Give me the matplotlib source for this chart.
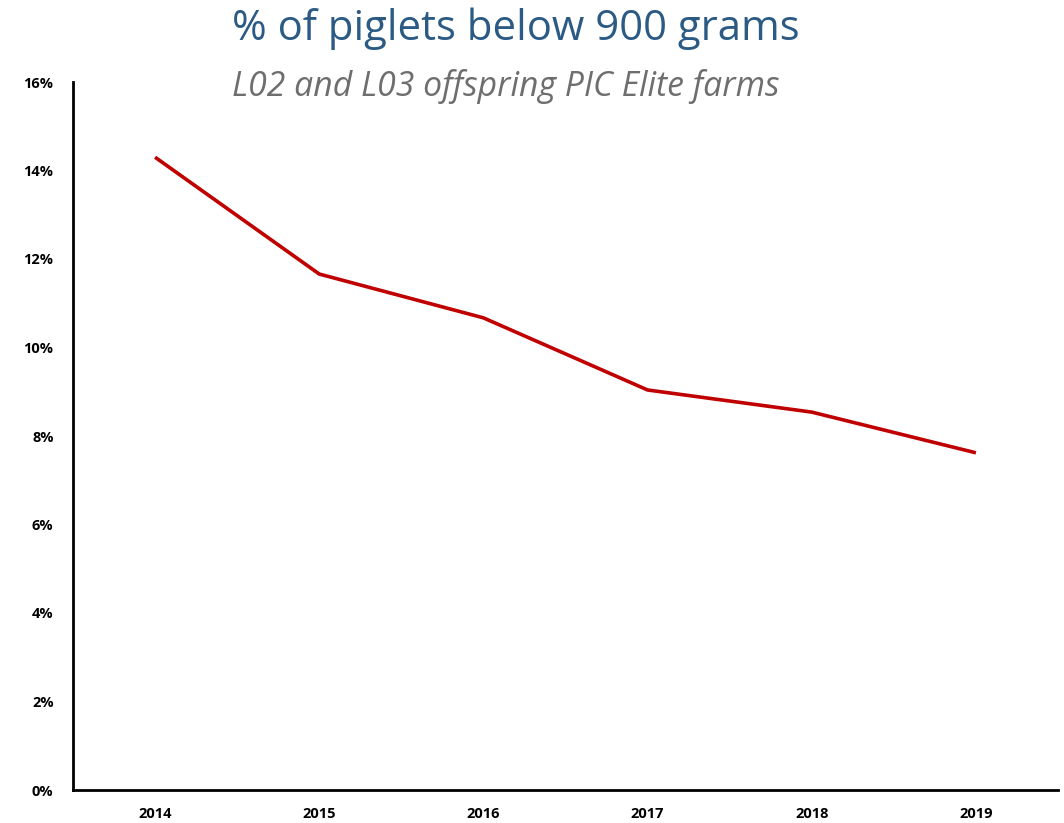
import matplotlib
matplotlib.use("Agg")
import matplotlib.pyplot as plt
from matplotlib.ticker import FuncFormatter

years = ["2014", "2015", "2016", "2017", "2018", "2019"]
pct_below_900g = [14.3, 11.66, 10.67, 9.04, 8.54, 7.62]
y_ticks = [0, 2, 4, 6, 8, 10, 12, 14, 16]

plt.rcParams['font.family'] = ['Open Sans', 'DejaVu Sans']

fig = plt.figure(figsize=(10.64, 8.23), dpi=100)
ax = fig.add_axes([73/1064, 33/823, (1058-73)/1064, (790-82)/823])

x = list(range(len(years)))
ax.plot(x, pct_below_900g, color="#C00000", linewidth=2.6, solid_capstyle="butt")

ax.set_xlim(-0.5, len(years) - 0.5)
ax.set_ylim(0, 16)
ax.set_xticks(x)
ax.set_xticklabels(years)
ax.set_yticks(y_ticks)
ax.yaxis.set_major_formatter(FuncFormatter(lambda v, p: f"{int(v)}%"))

for s in ["top", "right"]:
    ax.spines[s].set_visible(False)
for s in ["left", "bottom"]:
    ax.spines[s].set_linewidth(2.0)
    ax.spines[s].set_color("black")

ax.tick_params(axis="both", length=0, labelsize=10.5)
ax.tick_params(axis="y", pad=14)
ax.tick_params(axis="x", pad=12)
for lbl in ax.get_xticklabels() + ax.get_yticklabels():
    lbl.set_fontweight("bold")

fig.text(232/1064, 1 - 29/823, "% of piglets below 900 grams", color="#2B5B84",
         fontsize=30.2, ha="left", va="center")
fig.text(232/1064, 1 - 86/823, "L02 and L03 offspring PIC Elite farms", color="#6E6E6E",
         fontsize=24.3, style="italic", ha="left", va="center")

fig.savefig("out.png", dpi=100)
